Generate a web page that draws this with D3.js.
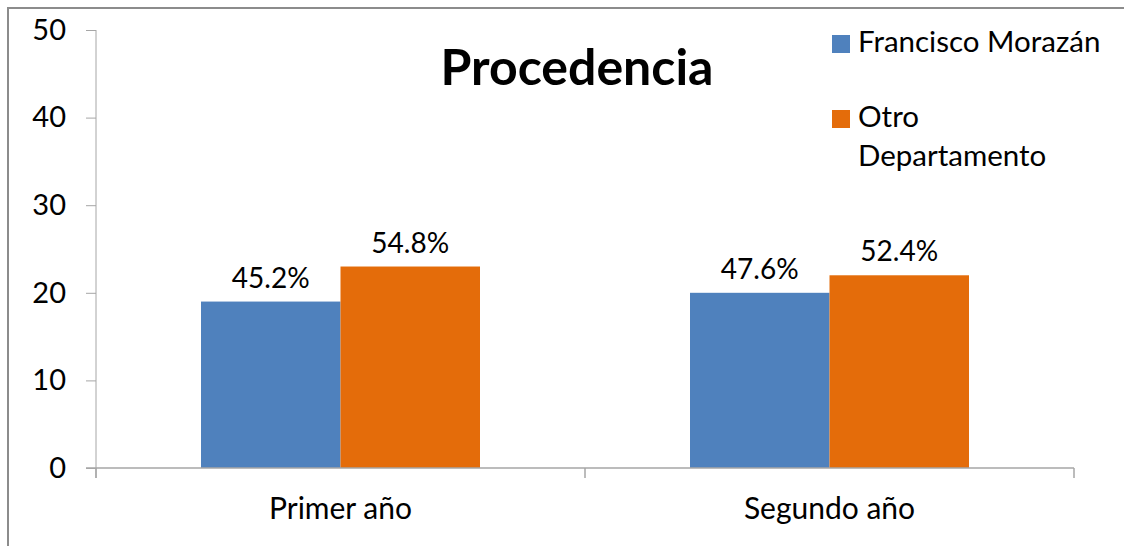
<!DOCTYPE html>
<html>
<head>
<meta charset="utf-8">
<script src="https://cdn.jsdelivr.net/npm/d3@7"></script>
<style>
  html, body { margin: 0; padding: 0; background: #fff; }
  svg { display: block; font-family: Lato, "Open Sans", sans-serif; }
</style>
</head>
<body>
<svg id="chart" width="1124" height="546"></svg>
<script>
const categories = ["Primer año", "Segundo año"];
const seriesNames = ["Francisco Morazán", "Otro Departamento"];
const seriesFM = [19, 20];
const seriesOtro = [23, 22];
const labelsFM = ["45.2%", "47.6%"];
const labelsOtro = ["54.8%", "52.4%"];
const yTicks = [0, 10, 20, 30, 40, 50];
const colors = ["#4F81BD", "#E46C0A"];

const svg = d3.select("#chart");
const axisColor = "#a6a6a6";

// outer frame (left + top)
svg.append("path").attr("d", "M8,546 L8,8 L1124,8")
  .attr("fill", "none").attr("stroke", "#8c8c8c").attr("stroke-width", 2);

const x0 = d3.scaleBand().domain(categories).range([96, 1074]).paddingInner(0).paddingOuter(0);
const y = d3.scaleLinear().domain([0, 50]).range([468, 30]);
const groupPad = 105;
const x1 = d3.scaleBand().domain(seriesNames).range([groupPad, x0.bandwidth() - groupPad]);

const data = categories.map((c, i) => ({
  cat: c,
  vals: [
    { s: seriesNames[0], v: seriesFM[i], lab: labelsFM[i], col: colors[0] },
    { s: seriesNames[1], v: seriesOtro[i], lab: labelsOtro[i], col: colors[1] }
  ]
}));

const g = svg.selectAll("g.cat").data(data).enter().append("g")
  .attr("class", "cat").attr("transform", d => `translate(${x0(d.cat)},0)`);

g.selectAll("rect").data(d => d.vals).enter().append("rect")
  .attr("x", d => x1(d.s)).attr("width", x1.bandwidth())
  .attr("y", d => y(d.v)).attr("height", d => y(0) - y(d.v))
  .attr("fill", d => d.col);

g.selectAll("text.lab").data(d => d.vals).enter().append("text")
  .attr("class", "lab")
  .attr("x", d => x1(d.s) + x1.bandwidth() / 2)
  .attr("y", d => y(d.v) - 14)
  .attr("text-anchor", "middle").attr("font-size", 28).attr("fill", "#000")
  .text(d => d.lab);

// Y axis
const yAxis = d3.axisLeft(y).tickValues(yTicks).tickSize(10).tickPadding(20);
const ya = svg.append("g").attr("transform", "translate(96,0)").call(yAxis);
ya.select(".domain").attr("d", `M0,${y(50)}V${y(0) + 10}`).attr("stroke", axisColor);
ya.selectAll(".tick line").attr("stroke", axisColor);
ya.selectAll(".tick text").attr("font-size", 29).attr("font-family", "Lato, 'Open Sans', sans-serif").attr("fill", "#000");

// X axis
const xa = svg.append("g").attr("transform", `translate(0,${y(0)})`);
xa.append("line").attr("x1", 86).attr("x2", 1074).attr("y1", 0).attr("y2", 0)
  .attr("stroke", axisColor).attr("stroke-width", 1.5);
const bounds = [x0(categories[0]), ...categories.map(c => x0(c) + x0.bandwidth())];
xa.selectAll("line.tk").data(bounds).enter().append("line").attr("class", "tk")
  .attr("x1", d => d).attr("x2", d => d).attr("y1", 0).attr("y2", 10)
  .attr("stroke", axisColor).attr("stroke-width", 1.5);
xa.selectAll("text").data(categories).enter().append("text")
  .attr("x", d => x0(d) + x0.bandwidth() / 2).attr("y", 51)
  .attr("text-anchor", "middle").attr("font-size", 30).attr("fill", "#000")
  .text(d => d);

// Title
svg.append("text").attr("x", 577).attr("y", 85).attr("text-anchor", "middle")
  .attr("font-size", 50).attr("font-weight", "bold").attr("fill", "#000")
  .text("Procedencia");

// Legend
const leg = svg.append("g");
const legItems = [
  { name: seriesNames[0], lines: ["Francisco Morazán"], col: colors[0], y: 52 },
  { name: seriesNames[1], lines: ["Otro", "Departamento"], col: colors[1], y: 127 }
];
legItems.forEach(it => {
  leg.append("rect").attr("x", 832).attr("y", it.y - 17).attr("width", 18).attr("height", 18).attr("fill", it.col);
  const t = leg.append("text").attr("x", 858).attr("y", it.y).attr("font-size", 29.5).attr("fill", "#000");
  it.lines.forEach((ln, i) => t.append("tspan").attr("x", 858).attr("dy", i === 0 ? 0 : 39).text(ln));
});
</script>
</body>
</html>
